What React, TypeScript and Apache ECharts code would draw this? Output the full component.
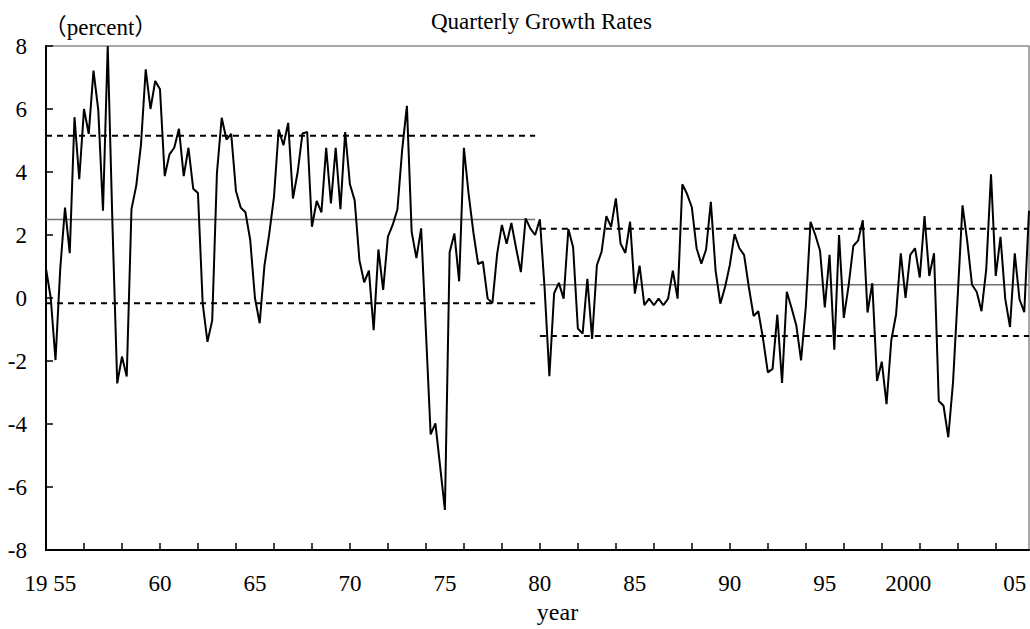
import React, { useEffect, useRef } from "react";
import * as echarts from "echarts";

// Quarterly growth rates (percent), first quarter = 1954Q1, last = 2005Q4
const START_YEAR = 1954;
const growth: number[] = [
  0.93, 0.0, -1.97, 0.93, 2.87, 1.42, 5.74, 3.77, 6.0, 5.21,
  7.22, 5.98, 2.77, 8.0, 2.3, -2.71, -1.86, -2.49, 2.82, 3.56,
  4.87, 7.26, 6.0, 6.89, 6.63, 3.87, 4.56, 4.77, 5.37, 3.87,
  4.77, 3.47, 3.33, -0.18, -1.39, -0.71, 3.98, 5.72, 5.03, 5.21,
  3.4, 2.87, 2.72, 1.85, 0.0, -0.8, 1.03, 2.03, 3.2, 5.35,
  4.85, 5.56, 3.16, 4.0, 5.22, 5.27, 2.26, 3.08, 2.72, 4.77,
  3.0, 4.77, 2.82, 5.27, 3.61, 3.1, 1.2, 0.5, 0.87, -1.02,
  1.54, 0.26, 1.95, 2.32, 2.81, 4.7, 6.1, 2.1, 1.27, 2.21,
  -1.06, -4.33, -3.98, -5.35, -6.73, 1.45, 2.05, 0.53, 4.77, 3.3,
  2.08, 1.08, 1.15, -0.02, -0.16, 1.4, 2.32, 1.72, 2.38, 1.58,
  0.82, 2.53, 2.2, 2.0, 2.5, 0.3, -2.48, 0.15, 0.48, -0.02,
  2.19, 1.61, -0.97, -1.13, 0.61, -1.3, 1.04, 1.47, 2.6, 2.26,
  3.16, 1.72, 1.43, 2.42, 0.14, 1.03, -0.23, -0.02, -0.23, -0.02,
  -0.23, -0.02, 0.87, -0.02, 3.61, 3.3, 2.88, 1.58, 1.09, 1.54,
  3.05, 0.87, -0.18, 0.35, 1.05, 2.03, 1.58, 1.37, 0.35, -0.57,
  -0.42, -1.3, -2.36, -2.25, -0.53, -2.7, 0.2, -0.32, -0.87, -1.98,
  -0.28, 2.42, 2.0, 1.5, -0.3, 1.37, -1.64, 2.0, -0.63, 0.38,
  1.65, 1.82, 2.47, -0.46, 0.47, -2.63, -2.02, -3.37, -1.34, -0.53,
  1.42, 0.0, 1.37, 1.58, 0.65, 2.6, 0.7, 1.42, -3.27, -3.42,
  -4.42, -2.68, 0.1, 2.94, 1.8, 0.42, 0.19, -0.42, 0.92, 3.93,
  0.7, 1.94, -0.03, -0.92, 1.42, -0.04, -0.45, 2.77,
];

const categories: string[] = growth.map(
  (_, i) => `${START_YEAR + Math.floor(i / 4)}Q${(i % 4) + 1}`
);

// x-axis labels
const labelCategories = ["1955Q1", "1960Q1", "1965Q1", "1970Q1", "1975Q1", "1980Q1", "1985Q1", "1990Q1", "1995Q1", "2000Q1", "2005Q1"];
const labelTexts = ["19 55", "60", "65", "70", "75", "80", "85", "90", "95", "2000", "05"];

// period averages and +/- 1 s.d. bands
const periodStart = ["1954Q1", "1980Q1"];
const periodEnd = ["1979Q4", "2005Q4"];
const periodMean = [2.49, 0.42];
const periodUpper = [5.15, 2.2];
const periodLower = [-0.17, -1.21];

const FONT = "'Liberation Serif', 'Times New Roman', serif";

function bandData(p: number, v: number): (number | null)[] {
  const s = categories.indexOf(periodStart[p]);
  const e = categories.indexOf(periodEnd[p]);
  return categories.map((_, i) => (i >= s && i <= e ? v : null));
}

export default function App() {
  const ref = useRef<HTMLDivElement>(null);
  useEffect(() => {
    if (!ref.current) return;
    const chart = echarts.init(ref.current, undefined, { renderer: "svg" });
    const txt = { fontFamily: FONT, fontSize: 23, color: "#000" };

    const bandSeries: any[] = [];
    for (let p = 0; p < periodMean.length; p++) {
      bandSeries.push({
        type: "line", data: bandData(p, periodMean[p]), showSymbol: false, silent: true,
        lineStyle: { color: "#707070", width: 1.6 }, z: 2,
      });
      bandSeries.push({
        type: "line", data: bandData(p, periodUpper[p]), showSymbol: false, silent: true,
        lineStyle: { color: "#000", width: 2, type: [6, 5] }, z: 2,
      });
      bandSeries.push({
        type: "line", data: bandData(p, periodLower[p]), showSymbol: false, silent: true,
        lineStyle: { color: "#000", width: 2, type: [6, 5] }, z: 2,
      });
    }

    chart.setOption({
      animation: false,
      title: {
        text: "Quarterly Growth Rates",
        left: 426,
        top: 5,
        textStyle: { ...txt, fontWeight: "normal" },
      },
      grid: {
        left: 46, right: 1, top: 46, bottom: 77,
        show: true, borderColor: "#8c8c8c", borderWidth: 1.5,
      },
      xAxis: {
        type: "category",
        data: categories,
        boundaryGap: false,
        axisLine: { onZero: false, lineStyle: { color: "#000", width: 2 } },
        axisTick: { inside: true, length: 7, interval: 7, lineStyle: { color: "#000", width: 1.5 } },
        axisLabel: {
          interval: (i: number) => labelCategories.indexOf(categories[i]) >= 0,
          margin: 22,
          ...txt,
          formatter: (v: string) => {
            const k = labelCategories.indexOf(v);
            if (k < 0) return "";
            const t = labelTexts[k];
            if (t.length > 2) {
              const pre = t.slice(0, t.length - 2);
              const suf = t.slice(t.length - 2);
              return `{p|${pre}}{n|${suf}}{${pre.length > 2 ? "q1" : "q2"}| }`;
            }
            return `{n|${t}}`;
          },
          rich: {
            p: { ...txt },
            n: { ...txt },
            q1: { ...txt, width: 29 },
            q2: { ...txt, width: 23 },
          },
        },
        splitLine: { show: false },
        name: "year",
        nameLocation: "middle",
        nameGap: 50,
        nameTextStyle: { fontFamily: FONT, fontSize: 24, color: "#000", padding: [0, 0, 0, 40] },
      },
      yAxis: {
        type: "value",
        min: -8,
        max: 8,
        interval: 2,
        axisLine: { show: true, onZero: false, lineStyle: { color: "#000", width: 2 } },
        axisTick: { show: true, inside: true, length: 7, lineStyle: { color: "#000", width: 1.5 } },
        axisLabel: { margin: 19, ...txt },
        splitLine: { show: false },
      },
      graphic: [
        {
          type: "text",
          x: 43.7,
          y: 27,
          style: {
            text: "（percent）",
            fontFamily: "'Liberation Serif', 'Noto Sans CJK JP', serif",
            fontSize: 23,
            fill: "#000",
            verticalAlign: "middle",
          },
        },
      ],
      series: [
        ...bandSeries,
        {
          type: "line",
          data: growth,
          showSymbol: false,
          lineStyle: { color: "#000", width: 2 },
          z: 5,
        },
      ],
    });
    return () => chart.dispose();
  }, []);
  return <div ref={ref} style={{ width: 1030, height: 629, position: "absolute", left: 0, top: 0 }} />;
}
